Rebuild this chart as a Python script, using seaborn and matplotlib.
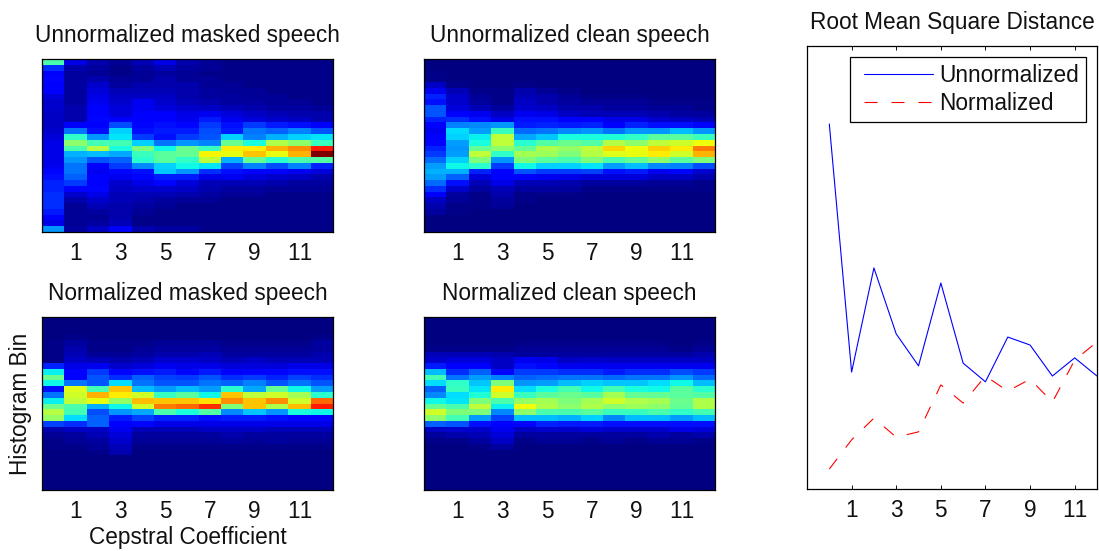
import matplotlib
matplotlib.use('Agg')
import numpy as np
import pandas as pd
import seaborn as sns
import matplotlib.pyplot as plt

# histogram cells, 0-100 on the jet scale
masked_raw = [
    [44, 9, 4, 2, 5, 9, 4, 2, 1, 1, 1, 1, 1],
    [17, 4, 3, 1, 3, 5, 3, 2, 1, 1, 1, 1, 1],
    [11, 3, 2, 1, 2, 3, 2, 1, 1, 1, 1, 1, 1],
    [13, 3, 4, 2, 2, 4, 2, 2, 1, 1, 1, 1, 1],
    [11, 3, 7, 3, 4, 4, 4, 2, 2, 1, 1, 1, 1],
    [11, 3, 8, 5, 5, 5, 4, 3, 2, 2, 1, 1, 1],
    [8, 3, 9, 6, 6, 6, 4, 3, 3, 2, 2, 1, 1],
    [7, 3, 10, 7, 10, 7, 5, 4, 3, 3, 2, 2, 1],
    [7, 4, 11, 8, 10, 8, 7, 6, 5, 4, 3, 3, 2],
    [6, 4, 12, 8, 11, 11, 9, 10, 8, 6, 5, 4, 4],
    [6, 4, 13, 12, 12, 12, 10, 15, 10, 8, 7, 6, 4],
    [6, 11, 11, 20, 13, 14, 13, 18, 14, 18, 15, 14, 11],
    [7, 24, 14, 33, 14, 15, 15, 20, 15, 24, 22, 25, 21],
    [8, 41, 27, 35, 18, 14, 18, 21, 33, 25, 30, 33, 35],
    [9, 52, 43, 43, 33, 24, 27, 25, 48, 38, 56, 52, 42],
    [9, 44, 57, 38, 50, 37, 48, 42, 66, 66, 72, 76, 88],
    [9, 30, 31, 29, 42, 46, 47, 65, 63, 70, 63, 72, 100],
    [9, 27, 21, 22, 40, 46, 41, 58, 30, 47, 40, 44, 45],
    [10, 24, 11, 18, 26, 33, 37, 35, 19, 25, 20, 25, 16],
    [13, 24, 10, 13, 14, 32, 27, 17, 14, 12, 12, 10, 8],
    [14, 22, 11, 10, 13, 15, 15, 9, 10, 8, 7, 6, 4],
    [16, 18, 12, 7, 9, 13, 8, 5, 5, 5, 4, 3, 3],
    [16, 12, 13, 6, 7, 7, 6, 4, 3, 3, 2, 2, 2],
    [17, 7, 9, 5, 5, 5, 4, 3, 2, 2, 1, 1, 1],
    [17, 4, 7, 5, 4, 3, 2, 2, 1, 1, 1, 1, 1],
    [17, 2, 5, 4, 3, 2, 1, 1, 1, 1, 1, 1, 1],
    [15, 2, 3, 4, 2, 1, 1, 1, 1, 1, 1, 1, 1],
    [11, 2, 2, 4, 1, 1, 1, 1, 1, 1, 1, 1, 1],
    [9, 2, 3, 5, 1, 1, 1, 1, 1, 1, 1, 1, 1],
    [27, 3, 6, 11, 4, 3, 3, 1, 1, 1, 1, 1, 1],
]

clean_raw = [
    [0, 0, 0, 0, 0, 0, 0, 0, 0, 0, 0, 0, 0],
    [0, 0, 0, 0, 0, 0, 0, 0, 0, 0, 0, 0, 0],
    [1, 0, 0, 0, 0, 0, 0, 0, 0, 0, 0, 0, 0],
    [1, 0, 0, 0, 0, 0, 0, 0, 0, 0, 0, 0, 0],
    [6, 1, 0, 0, 1, 0, 0, 0, 0, 0, 0, 0, 0],
    [10, 5, 1, 1, 4, 2, 1, 0, 0, 0, 0, 0, 0],
    [16, 7, 2, 1, 5, 4, 2, 1, 1, 1, 0, 0, 0],
    [14, 7, 3, 1, 6, 4, 3, 2, 2, 2, 1, 1, 1],
    [21, 8, 5, 3, 7, 6, 4, 4, 3, 3, 2, 2, 1],
    [21, 11, 10, 6, 10, 9, 6, 5, 5, 5, 4, 3, 3],
    [16, 17, 14, 9, 14, 14, 11, 11, 9, 9, 7, 6, 5],
    [12, 25, 26, 27, 15, 16, 15, 16, 12, 16, 14, 14, 11],
    [10, 34, 28, 42, 23, 24, 26, 27, 24, 27, 27, 31, 27],
    [11, 33, 36, 58, 29, 32, 38, 38, 39, 41, 46, 46, 42],
    [13, 28, 38, 58, 40, 45, 48, 45, 57, 52, 58, 60, 64],
    [16, 27, 47, 52, 47, 56, 53, 58, 68, 64, 69, 66, 78],
    [18, 28, 58, 41, 55, 54, 50, 57, 62, 63, 66, 60, 72],
    [23, 33, 50, 27, 50, 46, 44, 50, 44, 47, 52, 46, 50],
    [28, 37, 40, 18, 37, 33, 33, 35, 28, 31, 26, 25, 20],
    [30, 30, 16, 11, 21, 18, 18, 19, 14, 15, 10, 12, 7],
    [28, 22, 8, 11, 11, 10, 9, 8, 8, 8, 6, 6, 4],
    [23, 14, 5, 9, 5, 5, 4, 3, 3, 3, 2, 2, 1],
    [17, 7, 3, 5, 3, 3, 3, 1, 1, 1, 1, 1, 1],
    [11, 3, 1, 4, 1, 1, 1, 0, 0, 0, 0, 0, 0],
    [6, 2, 1, 3, 1, 0, 0, 0, 0, 0, 0, 0, 0],
    [4, 1, 1, 2, 0, 0, 0, 0, 0, 0, 0, 0, 0],
    [3, 1, 0, 0, 0, 0, 0, 0, 0, 0, 0, 0, 0],
    [0, 0, 0, 0, 0, 0, 0, 0, 0, 0, 0, 0, 0],
    [0, 0, 0, 0, 0, 0, 0, 0, 0, 0, 0, 0, 0],
    [0, 0, 0, 0, 0, 0, 0, 0, 0, 0, 0, 0, 0],
]

masked_norm = [
    [0, 0, 0, 0, 0, 0, 0, 0, 0, 0, 0, 0, 0],
    [0, 0, 0, 0, 0, 0, 0, 0, 0, 0, 0, 0, 0],
    [0, 0, 0, 0, 0, 0, 0, 0, 0, 0, 0, 0, 0],
    [0, 1, 0, 0, 0, 0, 0, 0, 0, 0, 0, 0, 1],
    [1, 3, 1, 1, 1, 2, 2, 2, 1, 1, 1, 1, 3],
    [1, 4, 1, 1, 2, 3, 3, 3, 2, 2, 2, 2, 3],
    [1, 5, 2, 2, 3, 4, 4, 5, 3, 3, 3, 3, 4],
    [1, 6, 5, 4, 5, 7, 7, 6, 5, 6, 5, 5, 5],
    [16, 9, 10, 7, 8, 10, 9, 9, 8, 8, 8, 9, 9],
    [36, 12, 18, 13, 14, 15, 13, 15, 12, 13, 13, 14, 14],
    [48, 11, 21, 17, 22, 19, 18, 21, 17, 18, 16, 19, 17],
    [37, 24, 21, 34, 24, 21, 21, 24, 22, 25, 21, 24, 21],
    [14, 62, 43, 70, 31, 28, 31, 28, 40, 29, 47, 37, 28],
    [24, 60, 72, 66, 60, 42, 46, 37, 70, 58, 60, 55, 40],
    [36, 58, 63, 53, 71, 70, 70, 67, 76, 70, 76, 60, 80],
    [48, 44, 30, 37, 60, 78, 80, 86, 50, 70, 56, 71, 88],
    [57, 43, 20, 27, 29, 44, 38, 45, 26, 32, 27, 38, 37],
    [53, 34, 22, 15, 19, 16, 16, 14, 15, 15, 14, 13, 13],
    [19, 17, 22, 12, 13, 9, 9, 9, 9, 9, 9, 9, 9],
    [4, 6, 6, 10, 5, 5, 5, 6, 6, 6, 5, 5, 5],
    [2, 3, 5, 8, 3, 3, 3, 3, 4, 3, 3, 3, 3],
    [1, 2, 3, 7, 2, 2, 2, 2, 3, 2, 3, 2, 2],
    [1, 1, 2, 5, 1, 1, 1, 1, 1, 1, 1, 1, 1],
    [0, 0, 1, 4, 0, 0, 0, 0, 0, 0, 0, 0, 0],
    [0, 0, 0, 0, 0, 0, 0, 0, 0, 0, 0, 0, 0],
    [0, 0, 0, 0, 0, 0, 0, 0, 0, 0, 0, 0, 0],
    [0, 0, 0, 0, 0, 0, 0, 0, 0, 0, 0, 0, 0],
    [0, 0, 0, 0, 0, 0, 0, 0, 0, 0, 0, 0, 0],
    [0, 0, 0, 0, 0, 0, 0, 0, 0, 0, 0, 0, 0],
    [0, 0, 0, 0, 0, 0, 0, 0, 0, 0, 0, 0, 0],
]

clean_norm = [
    [0, 0, 0, 0, 0, 0, 0, 0, 0, 0, 0, 0, 0],
    [0, 0, 0, 0, 0, 0, 0, 0, 0, 0, 0, 0, 0],
    [0, 0, 0, 0, 0, 0, 0, 0, 0, 0, 0, 0, 0],
    [0, 0, 0, 0, 0, 0, 0, 0, 0, 0, 0, 0, 0],
    [0, 0, 0, 0, 1, 1, 1, 1, 1, 1, 1, 0, 1],
    [1, 1, 1, 1, 2, 2, 2, 2, 2, 2, 2, 1, 2],
    [5, 5, 5, 4, 3, 3, 3, 3, 3, 3, 3, 3, 4],
    [7, 8, 8, 6, 10, 9, 6, 7, 6, 6, 6, 6, 6],
    [15, 12, 12, 6, 14, 13, 10, 10, 10, 10, 10, 10, 10],
    [31, 17, 22, 13, 18, 18, 17, 17, 15, 17, 17, 20, 18],
    [43, 24, 28, 25, 22, 23, 24, 24, 23, 24, 24, 27, 23],
    [34, 41, 32, 50, 27, 28, 31, 33, 32, 32, 34, 37, 31],
    [22, 42, 35, 66, 34, 38, 43, 37, 43, 38, 37, 46, 40],
    [26, 34, 39, 60, 42, 46, 48, 46, 55, 47, 47, 46, 45],
    [37, 35, 50, 44, 53, 55, 50, 55, 60, 56, 55, 48, 56],
    [47, 44, 58, 36, 64, 56, 52, 56, 52, 54, 52, 47, 56],
    [60, 50, 50, 26, 52, 44, 44, 46, 42, 42, 44, 41, 43],
    [52, 43, 28, 19, 31, 31, 30, 33, 26, 31, 31, 28, 31],
    [22, 21, 14, 12, 13, 16, 15, 15, 14, 14, 14, 14, 14],
    [6, 7, 7, 10, 6, 7, 7, 8, 7, 7, 7, 9, 8],
    [3, 4, 5, 8, 3, 3, 3, 3, 3, 3, 4, 3, 4],
    [1, 1, 3, 6, 1, 2, 2, 1, 2, 1, 2, 2, 1],
    [0, 0, 1, 3, 0, 0, 0, 0, 0, 0, 0, 0, 0],
    [0, 0, 0, 0, 0, 0, 0, 0, 0, 0, 0, 0, 0],
    [0, 0, 0, 0, 0, 0, 0, 0, 0, 0, 0, 0, 0],
    [0, 0, 0, 0, 0, 0, 0, 0, 0, 0, 0, 0, 0],
    [0, 0, 0, 0, 0, 0, 0, 0, 0, 0, 0, 0, 0],
    [0, 0, 0, 0, 0, 0, 0, 0, 0, 0, 0, 0, 0],
    [0, 0, 0, 0, 0, 0, 0, 0, 0, 0, 0, 0, 0],
    [0, 0, 0, 0, 0, 0, 0, 0, 0, 0, 0, 0, 0],
]

coefficients = list(range(13))
tick_labels = [1, 3, 5, 7, 9, 11]
rms_unnormalized = [.824, .264, .499, .350, .278, .465, .284, .242, .343, .325, .255, .296, .255]
rms_normalized = [.045, .111, .160, .117, .129, .235, .194, .255, .221, .248, .196, .291, .332]

W, H = 1099, 551
FS = 16.3

sns.set_style('ticks')
plt.rcParams['font.family'] = ['Liberation Sans', 'DejaVu Sans']
plt.rcParams['text.kerning_factor'] = 16  # the "11" labels are too tight otherwise
plt.rcParams['axes.linewidth'] = 0.9
plt.rcParams['axes.edgecolor'] = 'black'
plt.rcParams['text.color'] = '#111111'
plt.rcParams['xtick.color'] = '#111111'
plt.rcParams['axes.labelcolor'] = '#111111'


def px_axes(fig, left, top, right, bottom):
    return fig.add_axes([left / W, 1 - bottom / H, (right - left) / W, (bottom - top) / H])


def style_ticks(ax, positions):
    ax.set_xticks(positions)
    ax.set_xticklabels(tick_labels, rotation=0)
    ax.set_yticks([])
    ax.tick_params(axis='x', direction='in', length=3, width=0.7, top=True, bottom=True,
                   labelsize=FS, pad=7.5)


fig = plt.figure(figsize=(W / 100, H / 100), dpi=100)

panels = [
    (masked_raw, 'Unnormalized masked speech', (42, 59, 333, 232)),
    (clean_raw, 'Unnormalized clean speech', (424, 59, 715, 232)),
    (masked_norm, 'Normalized masked speech', (42, 317, 333, 490)),
    (clean_norm, 'Normalized clean speech', (424, 317, 715, 490)),
]
for cells, title, box in panels:
    ax = px_axes(fig, *box)
    sns.heatmap(np.array(cells), cmap='jet', vmin=0, vmax=100, cbar=False, ax=ax,
                xticklabels=False, yticklabels=False)
    for s in ax.spines.values():
        s.set_visible(True)
    style_ticks(ax, [t + 0.5 for t in tick_labels])
    ax.set_title(title, fontsize=FS, pad=12.5)
    if box[0] == 42 and box[1] == 317:
        ax.set_xlabel('Cepstral Coefficient', fontsize=FS, labelpad=2)
        ax.set_ylabel('Histogram Bin', fontsize=FS, labelpad=7)

ax = px_axes(fig, 807, 46, 1097, 489)
df = pd.DataFrame({'coef': coefficients, 'un': rms_unnormalized, 'no': rms_normalized})
sns.lineplot(data=df, x='coef', y='un', color='#0000ff', lw=0.8, label='Unnormalized', ax=ax)
sns.lineplot(data=df, x='coef', y='no', color='#ff0000', lw=0.8, linestyle=(0, (11.7, 12.6)),
             label='Normalized', ax=ax)
ax.set_xlim(-1, 12)
ax.set_ylim(0, 1)
ax.set_xlabel('')
ax.set_ylabel('')
style_ticks(ax, tick_labels)
ax.set_title('Root Mean Square Distance', fontsize=FS, pad=12.5)
leg = ax.legend(loc='upper right', bbox_to_anchor=(1 - 11 / 290, 1 - 11 / 443), fontsize=FS,
                fancybox=False, framealpha=1, edgecolor='black', borderaxespad=0,
                handlelength=3.35, handletextpad=0.3, labelspacing=0.22, borderpad=0.3)
leg.get_frame().set_linewidth(0.9)
# legend samples start further in from the box edge than the padding gives
for line in leg.get_lines():
    xs = line.get_xdata()
    ys = line.get_ydata()
    line.set_data([xs[0] + 5, xs[-1]], [ys[0], ys[-1]])

plt.savefig('out.png', dpi=100)
